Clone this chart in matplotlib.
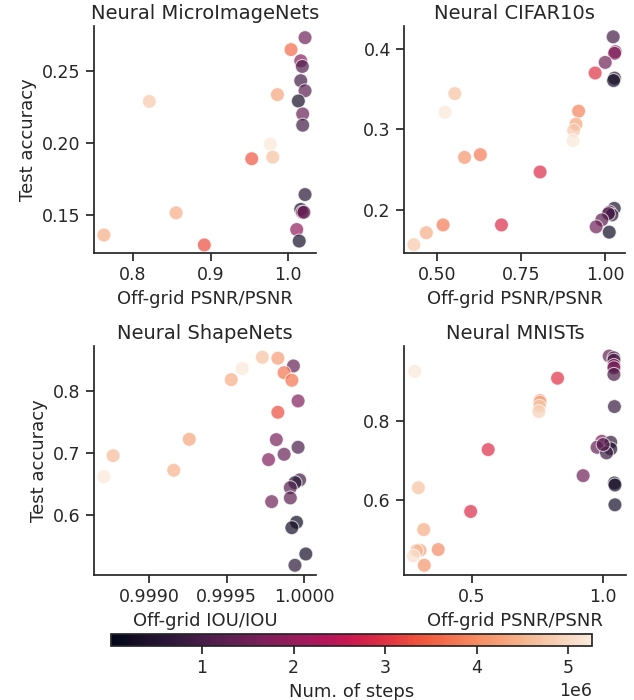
import numpy as np
import matplotlib
matplotlib.use("Agg")
import matplotlib.pyplot as plt
import seaborn as sns
from matplotlib.colors import Normalize
from matplotlib.cm import ScalarMappable

sns.set_theme(style="ticks", font_scale=1.1)
plt.rcParams['font.family'] = ['DejaVu Sans']
plt.rcParams['axes.titlesize'] = 14
plt.rcParams['axes.labelsize'] = 13
plt.rcParams['xtick.labelsize'] = 12.5
plt.rcParams['ytick.labelsize'] = 12.5

# ---- data ----
mi_x = [1.0215, 1.0035, 1.016, 1.018, 1.016, 1.0215, 0.986, 0.8213, 1.0129, 1.0185, 1.0185,
        0.9769, 0.980, 0.953, 1.0215, 1.016, 1.018, 1.020, 0.8557, 1.0108, 0.763, 0.892, 1.014]
mi_y = [0.2733, 0.265, 0.2572, 0.2533, 0.2434, 0.2364, 0.2337, 0.229, 0.2293, 0.2203, 0.2125,
        0.1993, 0.1903, 0.1892, 0.1643, 0.154, 0.152, 0.152, 0.1516, 0.140, 0.1362, 0.1293, 0.132]
mi_s = [1.5, 3.6, 1.8, 1.1, 0.9, 1.2, 4.3, 4.8, 0.3, 1.4, 0.9,
        5.2, 4.7, 3.4, 0.5, 0.3, 1.9, 1.2, 4.4, 1.9, 4.4, 3.3, 0.3]

cf_x = [1.0237, 1.03, 1.028, 1.0, 0.970, 1.0277, 1.025, 0.552, 0.523, 0.9208, 0.913, 0.906, 0.904,
        0.581, 0.628, 0.806, 1.027, 1.013, 1.02, 1.0095, 0.990, 0.973, 1.012, 0.691, 0.517, 0.467, 0.430]
cf_y = [0.4155, 0.397, 0.395, 0.3836, 0.3704, 0.364, 0.361, 0.3447, 0.3215, 0.3228, 0.3066, 0.2988, 0.286,
        0.2652, 0.2686, 0.247, 0.2017, 0.197, 0.1935, 0.195, 0.1873, 0.1786, 0.172, 0.181, 0.181, 0.1712, 0.1563]
cf_s = [0.9, 1.4, 1.8, 1.5, 3.0, 0.5, 0.3, 4.7, 5.2, 3.9, 4.3, 4.8, 5.2,
        4.1, 3.8, 2.9, 0.4, 1.5, 0.6, 1.0, 1.2, 1.5, 0.2, 2.9, 3.8, 4.4, 4.8]

sh_x = [0.99973, 0.99983, 0.99993, 0.99960, 0.99987, 0.99992, 0.99953, 0.99996, 0.99983, 0.99926,
        0.99982, 0.99996, 0.99987, 0.99977, 0.99877, 0.99871, 0.99916, 0.99997, 0.99994, 0.99991,
        0.99991, 0.99979, 0.99995, 0.99992, 1.00001, 0.99994]
sh_y = [0.8539, 0.8523, 0.8398, 0.8355, 0.829, 0.8168, 0.8177, 0.7834, 0.7651, 0.7216,
        0.721, 0.7087, 0.6974, 0.6887, 0.6952, 0.6613, 0.6716, 0.656, 0.6516, 0.6435,
        0.627, 0.621, 0.5877, 0.579, 0.5366, 0.5184]
sh_s = [4.7, 4.2, 1.4, 5.2, 3.7, 3.7, 4.4, 1.7, 3.3, 4.3,
        1.6, 1.0, 1.4, 1.7, 4.6, 5.2, 4.5, 0.9, 0.5, 1.1,
        1.2, 1.5, 0.2, 0.3, 0.3, 0.6]

mn_x = [1.023, 1.041, 1.041, 1.041, 1.041, 1.041, 0.2837, 0.8268, 0.760, 0.760, 0.758, 0.756,
        1.043, 0.995, 0.977, 1.029, 1.029, 1.013, 1.0, 0.563, 0.924, 0.2974, 1.043, 1.045,
        1.045, 0.4965, 0.318, 0.304, 0.291, 0.2785, 0.373, 0.32]
mn_y = [0.9614, 0.957, 0.951, 0.938, 0.932, 0.9155, 0.923, 0.906, 0.850, 0.846, 0.836, 0.8226,
        0.835, 0.748, 0.733, 0.7455, 0.729, 0.719, 0.74, 0.7272, 0.662, 0.6318, 0.6436, 0.6386,
        0.589, 0.5723, 0.527, 0.475, 0.474, 0.461, 0.477, 0.4377]
mn_s = [1.4, 0.9, 1.1, 1.8, 1.6, 1.0, 5.2, 3.0, 4.0, 4.3, 4.8, 4.9,
        0.8, 1.7, 1.3, 0.7, 0.4, 0.8, 1.2, 2.9, 1.5, 4.7, 0.2, 0.3,
        0.3, 2.9, 4.4, 4.3, 4.6, 5.1, 4.0, 4.1]

titles = ["Neural MicroImageNets", "Neural CIFAR10s", "Neural ShapeNets", "Neural MNISTs"]
xlabels = ["Off-grid PSNR/PSNR", "Off-grid PSNR/PSNR", "Off-grid IOU/IOU", "Off-grid PSNR/PSNR"]
xticks = [[0.8, 0.9, 1.0], [0.5, 0.75, 1.0], [0.999, 0.9995, 1.0], [0.5, 1.0]]
xticklabels = [["0.8", "0.9", "1.0"], ["0.50", "0.75", "1.00"], ["0.9990", "0.9995", "1.0000"], ["0.5", "1.0"]]
yticks = [[0.15, 0.20, 0.25], [0.2, 0.3, 0.4], [0.6, 0.7, 0.8], [0.6, 0.8]]
yticklabels = [["0.15", "0.20", "0.25"], ["0.2", "0.3", "0.4"], ["0.6", "0.7", "0.8"], ["0.6", "0.8"]]
xlims = [(0.7502, 1.0356), (0.4006, 1.059), (0.998647, 1.0000753), (0.243, 1.087)]
ylims = [(0.1237, 0.2814), (0.146, 0.429), (0.5027, 0.872), (0.4133, 0.9866)]

series = [(mi_x, mi_y, mi_s), (cf_x, cf_y, cf_s), (sh_x, sh_y, sh_s), (mn_x, mn_y, mn_s)]

cmap = sns.color_palette("rocket", as_cmap=True)
norm = Normalize(vmin=0.005e6, vmax=5.26e6)

fig = plt.figure(figsize=(6.34, 7.0), dpi=100)
positions = [
    [94/634, 1-253/700, 222/634, 227/700],
    [404/634, 1-253/700, 221/634, 227/700],
    [94/634, 1-575/700, 222/634, 229/700],
    [404/634, 1-575/700, 222/634, 229/700],
]

for i, (x, y, s) in enumerate(series):
    ax = fig.add_axes(positions[i])
    ax.scatter(x, y, c=np.array(s) * 1e6, cmap=cmap, norm=norm, s=100,
               alpha=0.7, edgecolor="white", linewidth=0.75)
    ax.set_xlim(*xlims[i])
    ax.set_ylim(*ylims[i])
    ax.set_xticks(xticks[i])
    ax.set_xticklabels(xticklabels[i])
    ax.set_yticks(yticks[i])
    ax.set_yticklabels(yticklabels[i])
    ax.set_title(titles[i], pad=5)
    ax.set_xlabel(xlabels[i])
    if i % 2 == 0:
        ax.set_ylabel("Test accuracy")
    sns.despine(ax=ax)

cax = fig.add_axes([110.7/634, 1-646.3/700, 481.6/634, 12.3/700])
sm = ScalarMappable(norm=norm, cmap=cmap)
cb = fig.colorbar(sm, cax=cax, orientation="horizontal")
cb.set_label("Num. of steps")

fig.savefig("out.png", dpi=100)
